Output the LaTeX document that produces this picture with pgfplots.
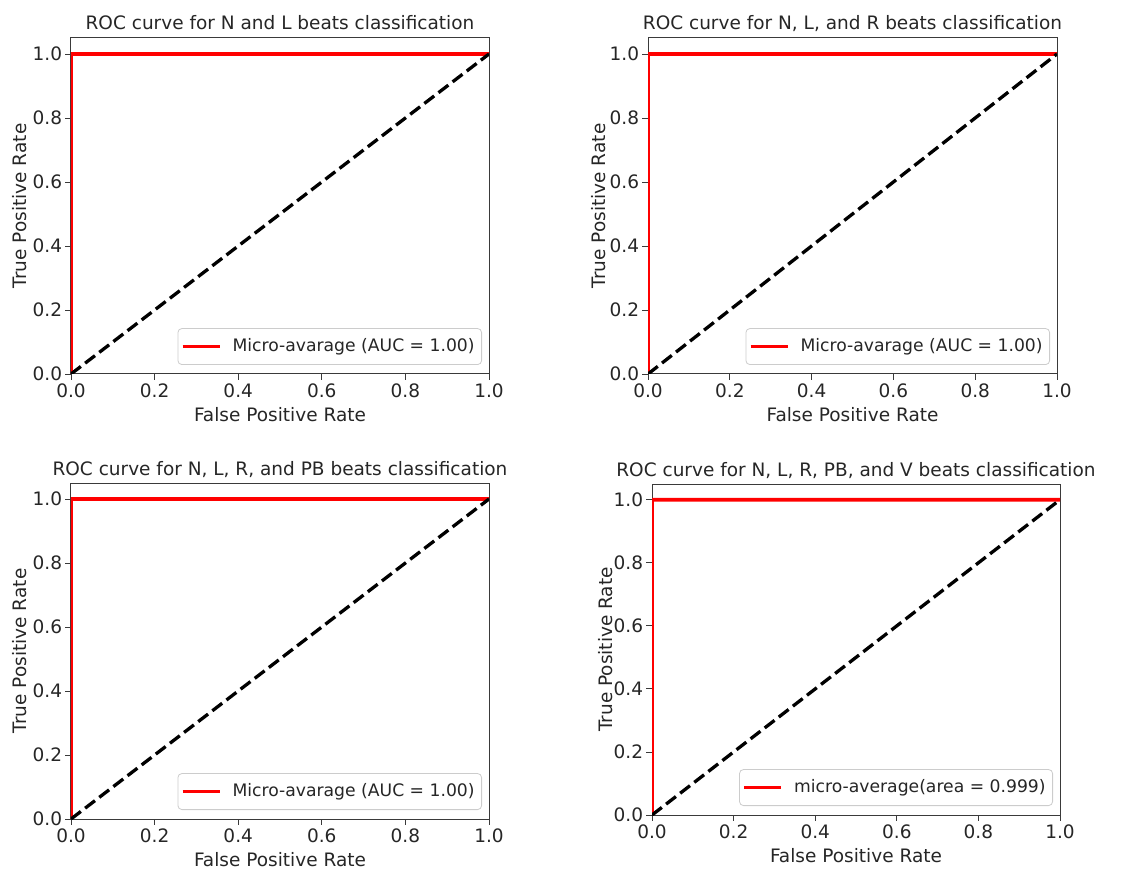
\documentclass[border=0pt]{standalone}
\usepackage{fontspec}
\setmainfont{DejaVu Sans}
\usepackage{pgfplots}
\pgfplotsset{compat=1.18}
\definecolor{txt}{HTML}{262626}
\definecolor{spine}{HTML}{3A3A3A}
\definecolor{legframe}{HTML}{CCCCCC}
\pgfplotsset{
  rocax/.style={
    scale only axis,
    xmin=0, xmax=1, ymin=0, ymax=1.05,
    xtick={0,0.2,0.4,0.6,0.8,1.0},
    ytick={0,0.2,0.4,0.6,0.8,1.0},
    /pgf/number format/assume math mode=true,
    /pgf/number format/.cd, fixed, fixed zerofill, precision=1, /pgfplots/.cd,
    tick align=outside,
    major tick length=2.9pt,
    tick style={spine, line width=0.45pt},
    axis line style={spine, line width=0.5pt},
    xtick pos=bottom, ytick pos=left,
    tick label style={text=txt},
    xticklabel style={anchor=base, yshift=-9pt},
    yticklabel style={anchor=east, xshift=2pt},
    title style={at={(0.5,1)}, anchor=base, yshift=-2pt, text=txt},
    xlabel={False Positive Rate},
    ylabel={True Positive Rate},
    xlabel style={at={(axis description cs:0.5,0)}, anchor=base, yshift=-23.5pt, text=txt},
    legend cell align=left,
    legend image code/.code={\draw[##1] (0pt,0pt) -- (18.5pt,0pt); \path (22pt,0pt);},
    legend style={at={(1,0)}, anchor=south east, xshift=-3.5pt, yshift=4.5pt,
      draw=legframe, rounded corners=2pt, fill=white, text=txt,
      font=\fontsize{8.6pt}{10pt}\selectfont,
      inner xsep=1.5pt, inner ysep=3pt},
  },
  diag/.style={black, line width=1.65pt, dash pattern=on 6.2pt off 2.7pt, forget plot},
  roc/.style={red, line width=1.8pt},
}
\begin{document}
\begin{tikzpicture}[font=\fontsize{9.25pt}{11pt}\selectfont]
\path[use as bounding box] (0,0) rectangle (571.5pt,434pt);

% Panel 1
\begin{axis}[rocax, width=209pt, height=168pt, at={(35.5pt,247pt)}, anchor=south west,
  title={ROC curve for N and L beats classification},
  ylabel style={at={([xshift=-22pt]axis description cs:0,0.5)}, anchor=base, text=txt}]
\addplot[roc] coordinates {(0,0) (0,1) (1,1)};
\addlegendentry{Micro-avarage (AUC = 1.00)}
\addplot[diag] coordinates {(0,0) (1,1)};
\end{axis}

% Panel 2
\begin{axis}[rocax, width=204.5pt, height=168pt, at={(324pt,247pt)}, anchor=south west,
  title={ROC curve for N, L, and R beats classification},
  ylabel style={at={([xshift=-21.5pt]axis description cs:0,0.5)}, anchor=base, text=txt}]
\addplot[roc] coordinates {(0,0) (0,1) (1,1)};
\addlegendentry{Micro-avarage (AUC = 1.00)}
\addplot[diag] coordinates {(0,0) (1,1)};
\end{axis}

% Panel 3
\begin{axis}[rocax, width=209pt, height=168pt, at={(35.5pt,24.5pt)}, anchor=south west,
  title={ROC curve for N, L, R, and PB beats classification},
  ylabel style={at={([xshift=-22pt]axis description cs:0,0.5)}, anchor=base, text=txt}]
\addplot[roc] coordinates {(0,0) (0,1) (1,1)};
\addlegendentry{Micro-avarage (AUC = 1.00)}
\addplot[diag] coordinates {(0,0) (1,1)};
\end{axis}

% Panel 4
\begin{axis}[rocax, width=204pt, height=165.5pt, at={(326pt,26.5pt)}, anchor=south west,
  title={ROC curve for N, L, R, PB, and V beats classification},
  ylabel style={at={([xshift=-20pt]axis description cs:0,0.5)}, anchor=base, text=txt}]
\addplot[roc] coordinates {(0,0) (0,0.996) (0.002,1) (1,1)};
\addlegendentry{micro-average(area = 0.999)}
\addplot[diag] coordinates {(0,0) (1,1)};
\end{axis}
\end{tikzpicture}
\end{document}
